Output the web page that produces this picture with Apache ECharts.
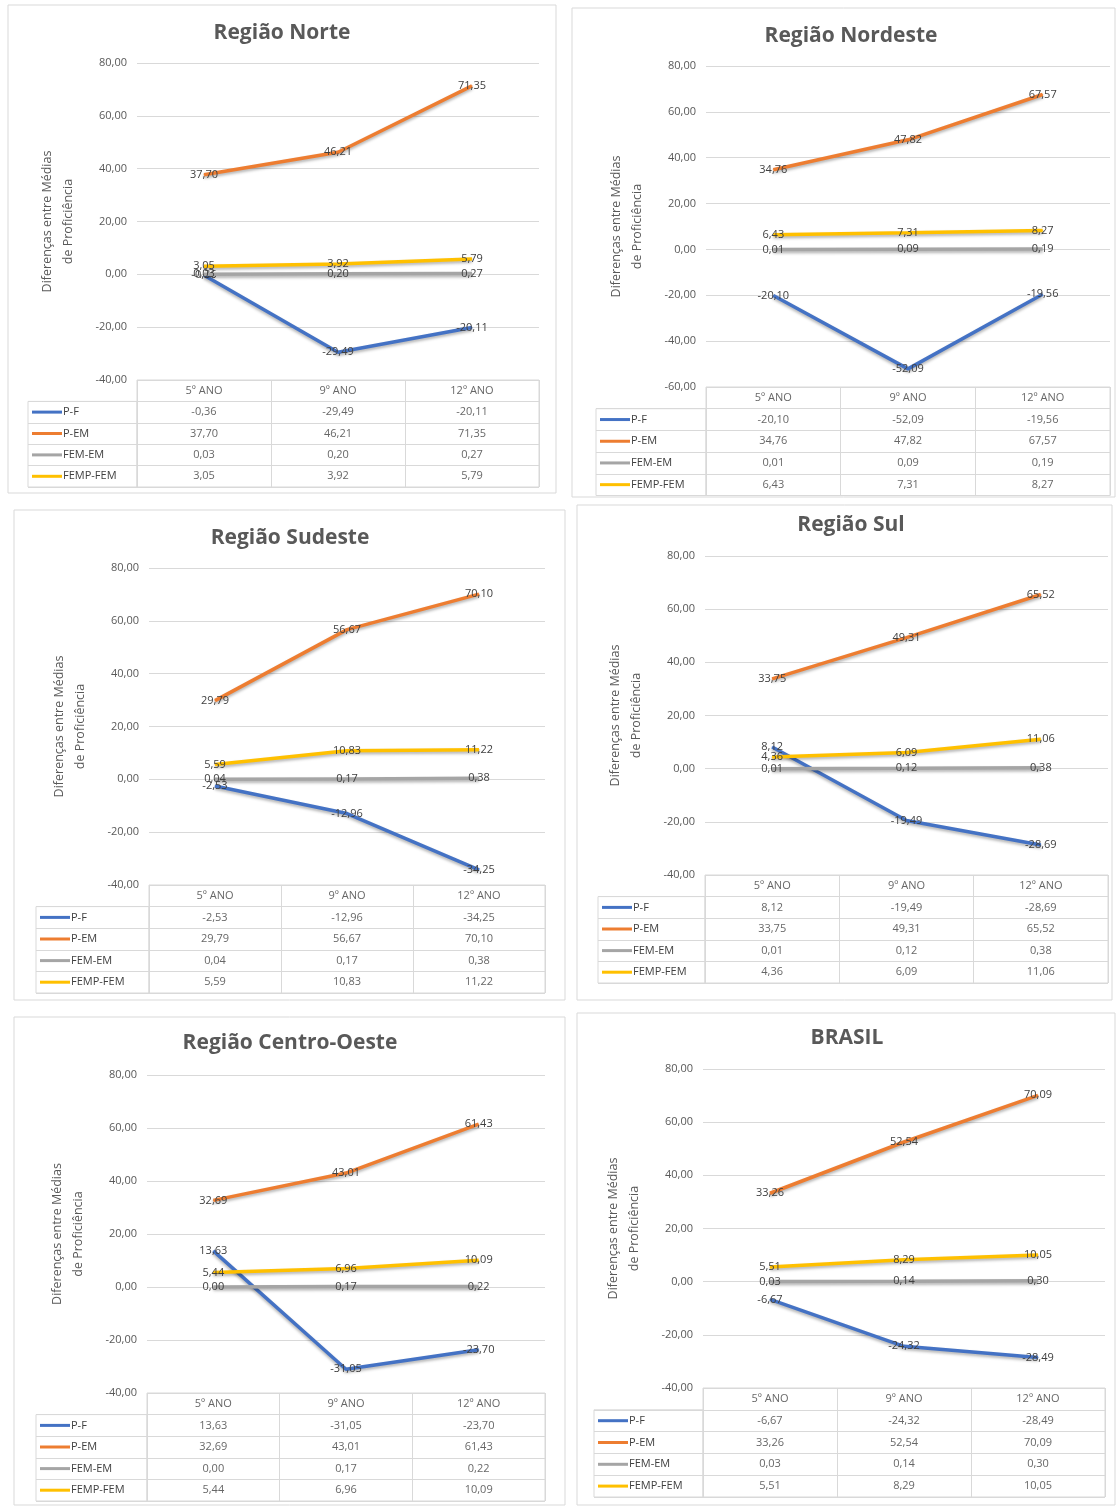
<!DOCTYPE html>
<html>
<head>
<meta charset="utf-8">
<script src="https://cdn.jsdelivr.net/npm/echarts@6/dist/echarts.min.js"></script>
<style>
    html, body {margin: 0; padding: 0; background: #fff;}
    #chart {width: 1118px; height: 1510px;}
</style>
</head>
<body>
<div id="chart"></div>
<script>
// dados
const categories = ['5º ANO', '9º ANO', '12º ANO'];
const seriesNames = ['P-F', 'P-EM', 'FEM-EM', 'FEMP-FEM'];
const regionTitles = ['Região Norte', 'Região Nordeste', 'Região Sudeste', 'Região Sul', 'Região Centro-Oeste', 'BRASIL'];
const yMins = [-40, -60, -40, -40, -40, -40];
const yMax = 80;
const yInterval = 20;

// valores por série: P-F, P-EM, FEM-EM, FEMP-FEM
const norte = [[-0.36, -29.49, -20.11], [37.70, 46.21, 71.35], [0.03, 0.20, 0.27], [3.05, 3.92, 5.79]];
const nordeste = [[-20.10, -52.09, -19.56], [34.76, 47.82, 67.57], [0.01, 0.09, 0.19], [6.43, 7.31, 8.27]];
const sudeste = [[-2.53, -12.96, -34.25], [29.79, 56.67, 70.10], [0.04, 0.17, 0.38], [5.59, 10.83, 11.22]];
const sul = [[8.12, -19.49, -28.69], [33.75, 49.31, 65.52], [0.01, 0.12, 0.38], [4.36, 6.09, 11.06]];
const centroOeste = [[13.63, -31.05, -23.70], [32.69, 43.01, 61.43], [0.00, 0.17, 0.22], [5.44, 6.96, 10.09]];
const brasil = [[-6.67, -24.32, -28.49], [33.26, 52.54, 70.09], [0.03, 0.14, 0.30], [5.51, 8.29, 10.05]];
const regionValues = [norte, nordeste, sudeste, sul, centroOeste, brasil];

// cores das séries (estilo Excel)
const colors = ['#4472C4', '#ED7D31', '#A5A5A5', '#FFC000'];

// layout de cada painel: caixa, título, área do gráfico, tabela
const panels = [
    {box: [8, 5, 548, 488], titleX: 277, titleY: 18, plot: [137, 63, 402, 317], tblLeft: 28, rowH: 21.4},
    {box: [572, 8, 543, 489], titleX: 846, titleY: 21, plot: [706, 66, 404, 321], tblLeft: 596, rowH: 21.7},
    {box: [14, 510, 551, 490], titleX: 285, titleY: 523, plot: [149, 568, 396, 317], tblLeft: 36, rowH: 21.6},
    {box: [577, 505, 535, 495], titleX: 846, titleY: 510, plot: [705, 556, 403, 319], tblLeft: 598, rowH: 21.6},
    {box: [14, 1017, 551, 488], titleX: 285, titleY: 1028, plot: [147, 1075, 398, 318], tblLeft: 36, rowH: 21.6},
    {box: [577, 1013, 538, 492], titleX: 842, titleY: 1023, plot: [703, 1069, 402, 319], tblLeft: 594, rowH: 21.8}
];

const FONT = 'Open Sans';
const fmt = v => v.toFixed(2).replace('.', ',');
const gridColor = '#d9d9d9';

const legendRich = {n: {fontSize: 11, color: '#404040', fontFamily: FONT, padding: [0, 0, 0, 1]}};
colors.forEach((c, i) => {
    legendRich['k' + i] = {width: 30, height: 3, backgroundColor: c};
});

const option = {
    backgroundColor: '#fff',
    animation: false,
    title: [],
    grid: [],
    xAxis: [],
    yAxis: [],
    series: [],
    graphic: []
};

panels.forEach((p, i) => {
    const [pl, pt, pw, ph] = p.plot;
    const tblTop = pt + ph;
    const values = regionValues[i];

    // moldura
    option.graphic.push({
        type: 'rect', silent: true, z: -1,
        shape: {x: p.box[0], y: p.box[1], width: p.box[2], height: p.box[3]},
        style: {fill: '#fff', stroke: gridColor, lineWidth: 1}
    });

    option.title.push({
        text: regionTitles[i],
        left: p.titleX, top: p.titleY, textAlign: 'center',
        textStyle: {fontSize: 21, fontWeight: 'bold', color: '#595959', fontFamily: FONT}
    });

    // grids: gráfico, tabela de valores, coluna da legenda
    option.grid.push({left: pl, top: pt, width: pw, height: ph});
    option.grid.push({left: pl, top: tblTop, width: pw, height: p.rowH * 5, show: true, borderColor: gridColor, borderWidth: 1});
    option.grid.push({left: p.tblLeft, top: tblTop + p.rowH, width: pl - p.tblLeft, height: p.rowH * 4, show: true, borderColor: gridColor, borderWidth: 1});

    const g = i * 3;

    option.xAxis.push({type: 'category', gridIndex: g, data: categories, show: false});
    option.xAxis.push({
        type: 'category', gridIndex: g + 1, data: categories,
        axisLabel: {show: false}, axisLine: {show: false}, axisTick: {show: false},
        splitLine: {show: true, lineStyle: {color: gridColor}}
    });
    option.xAxis.push({type: 'category', gridIndex: g + 2, data: [''], show: false});

    option.yAxis.push({
        type: 'value', gridIndex: g, min: yMins[i], max: yMax, interval: yInterval,
        axisLine: {show: false}, axisTick: {show: false},
        axisLabel: {formatter: v => fmt(v), color: '#595959', fontSize: 11, fontFamily: FONT, margin: 10},
        splitLine: {lineStyle: {color: gridColor}},
        name: 'Diferenças entre Médias\nde Proficiência',
        nameLocation: 'middle', nameGap: 58, nameRotate: 90,
        nameTextStyle: {fontSize: 12.5, color: '#595959', fontFamily: FONT, lineHeight: 21}
    });
    option.yAxis.push({
        type: 'category', gridIndex: g + 1, inverse: true, data: [' '].concat(seriesNames),
        axisLabel: {show: false}, axisLine: {show: false}, axisTick: {show: false},
        splitLine: {show: true, lineStyle: {color: gridColor}}
    });
    option.yAxis.push({
        type: 'category', gridIndex: g + 2, inverse: true, data: seriesNames,
        axisLine: {show: false}, axisTick: {show: false},
        splitLine: {show: true, lineStyle: {color: gridColor}},
        axisLabel: {
            inside: true, margin: 4,
            formatter: v => '{k' + seriesNames.indexOf(v) + '|}{n|' + v + '}',
            rich: legendRich
        }
    });

    // linhas
    seriesNames.forEach((name, s) => {
        option.series.push({
            name: name, type: 'line', xAxisIndex: g, yAxisIndex: g,
            data: values[s],
            symbol: 'circle', symbolSize: 1,
            itemStyle: {color: colors[s]},
            lineStyle: {width: 3.5, color: colors[s], shadowBlur: 3, shadowColor: 'rgba(0,0,0,0.3)', shadowOffsetY: 2},
            label: {
                show: true, position: 'inside', formatter: d => fmt(d.value),
                color: '#404040', fontSize: 11, fontFamily: FONT
            },
            z: 3 + s
        });
    });

    // células da tabela
    const cells = [];
    categories.forEach(c => cells.push([c, ' ']));
    seriesNames.forEach((name, s) => {
        categories.forEach((c, k) => cells.push([c, name, values[s][k]]));
    });
    option.series.push({
        type: 'scatter', xAxisIndex: g + 1, yAxisIndex: g + 1,
        data: cells, symbolSize: 0, silent: true,
        label: {
            show: true, position: 'inside',
            formatter: d => d.value[1] === ' ' ? d.value[0] : fmt(d.value[2]),
            color: '#404040', fontSize: 11, fontFamily: FONT
        }
    });
});

const chart = echarts.init(document.getElementById('chart'));
chart.setOption(option);
</script>
</body>
</html>
